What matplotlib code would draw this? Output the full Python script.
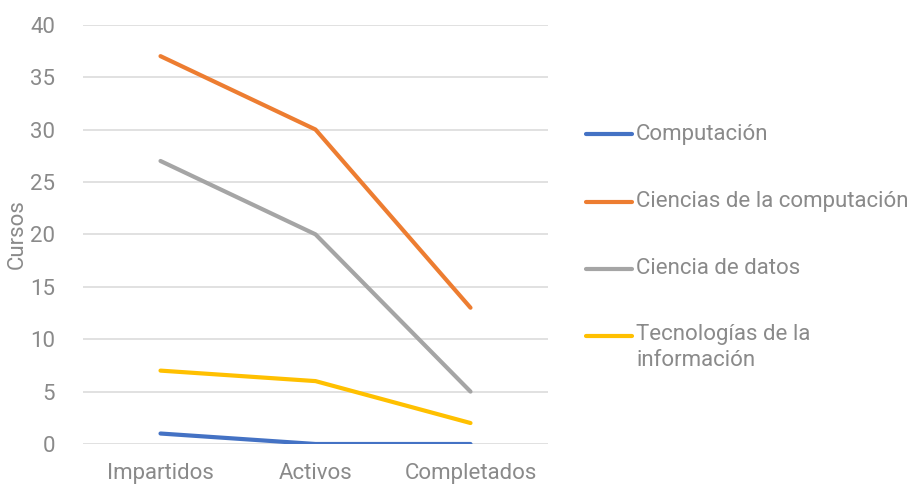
import matplotlib.pyplot as plt
from matplotlib.lines import Line2D

#------ data ------
categorias = ['Impartidos', 'Activos', 'Completados']
computacion = [1, 0, 0]
ciencias_comp = [37, 30, 13]
ciencia_datos = [27, 20, 5]
tecnologias = [7, 6, 2]

series = [
    ('Computación', computacion, '#4472C4'),
    ('Ciencias de la computación', ciencias_comp, '#ED7D31'),
    ('Ciencia de datos', ciencia_datos, '#A5A5A5'),
    ('Tecnologías de la\ninformación', tecnologias, '#FFC000'),
]

txt_color = '#8a8a8a'
fs = 16
plt.rcParams['font.family'] = ['Roboto', 'DejaVu Sans']

fig = plt.figure(figsize=(9.17, 4.84), dpi=100)
ax = fig.add_axes([83/917, 1 - 444/484, 465/917, (444 - 24.7)/484])

x = range(len(categorias))
for nombre, vals, col in series:
    ax.plot(x, vals, color=col, lw=3, solid_capstyle='round', label=nombre, zorder=3)

ax.set_xlim(-0.5, 2.5)
ax.set_ylim(0, 40)
ax.set_yticks(range(0, 41, 5))
ax.set_xticks(list(x))
ax.set_xticklabels(categorias)
ax.grid(axis='y', color='#D9D9D9', lw=1.1)
ax.set_axisbelow(True)
for s in ax.spines.values():
    s.set_visible(False)
ax.tick_params(length=0, labelsize=fs, colors=txt_color)
ax.tick_params(axis='y', pad=20)
ax.tick_params(axis='x', pad=14)
ax.set_ylabel('Cursos', fontsize=fs, color=txt_color)
ax.yaxis.set_label_coords(-0.118, 0.5)

# legend drawn by hand to match spacing
leg_y = [134, 202, 269, 336]
for (nombre, vals, col), yy in zip(series, leg_y):
    fy = 1 - yy / 484
    fig.add_artist(Line2D([586/917, 632/917], [fy, fy], color=col, lw=3,
                          solid_capstyle='round', transform=fig.transFigure))
    if '\n' in nombre:
        fig.text(636/917, 1 - (yy - 12) / 484, nombre, fontsize=fs, color=txt_color,
                 va='top', ha='left', linespacing=1.3)
    else:
        fig.text(636/917, fy, nombre, fontsize=fs, color=txt_color,
                 va='center', ha='left')

plt.savefig('out.png', dpi=100)
